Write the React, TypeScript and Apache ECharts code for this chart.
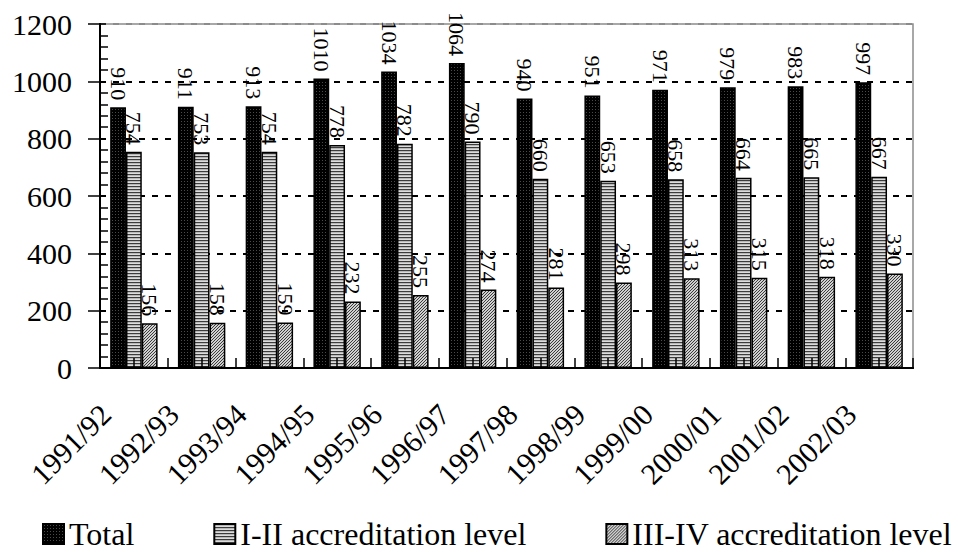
import React, { useEffect, useRef } from "react";
import * as echarts from "echarts";

const categories = [
  "1991/92", "1992/93", "1993/94", "1994/95", "1995/96", "1996/97",
  "1997/98", "1998/99", "1999/00", "2000/01", "2001/02", "2002/03",
];
const totalValues = [910, 911, 913, 1010, 1034, 1064, 940, 951, 971, 979, 983, 997];
const level12Values = [754, 753, 754, 778, 782, 790, 660, 653, 658, 664, 665, 667];
const level34Values = [156, 158, 159, 232, 255, 274, 281, 298, 313, 315, 318, 330];
const seriesNames = ["Total", "I-II accreditation level", "III-IV accreditation level"];

const FONT = "'Liberation Serif', 'Times New Roman', serif";

// Small tiled canvases used as bar fill patterns.
function makeTile(w: number, h: number, paint: (x: number, y: number) => string) {
  const c = document.createElement("canvas");
  c.width = w;
  c.height = h;
  const ctx = c.getContext("2d")!;
  for (let y = 0; y < h; y++) {
    for (let x = 0; x < w; x++) {
      ctx.fillStyle = paint(x, y);
      ctx.fillRect(x, y, 1, 1);
    }
  }
  return c;
}

export default function App() {
  const ref = useRef<HTMLDivElement>(null);

  useEffect(() => {
    if (!ref.current) return;
    const chart = echarts.init(ref.current, null, { renderer: "svg" });

    const dotted = makeTile(3, 3, (x, y) => (x === 1 && y === 1 ? "#4a4a4a" : "#000000"));
    const striped = makeTile(1, 3, (_x, y) => (y === 0 ? "#3c3c3c" : y === 1 ? "#b8b8b8" : "#dcdcdc"));
    const hatched = makeTile(3, 3, (x, y) => ((x + y) % 3 === 2 ? "#3c3c3c" : "#d0d0d0"));

    const fills = [dotted, striped, hatched];
    const values = [totalValues, level12Values, level34Values];

    const series: any[] = seriesNames.map((name, i) => ({
      name,
      type: "bar",
      xAxisIndex: 0,
      yAxisIndex: 0,
      data: values[i],
      barGap: "0%",
      barCategoryGap: "30%",
      itemStyle: {
        color: { image: fills[i], repeat: "repeat" },
        borderColor: "#000",
        borderWidth: 1.5,
      },
      label: {
        show: true,
        position: "top",
        rotate: -90,
        align: "right",
        verticalAlign: "middle",
        distance: 7,
        fontSize: 22,
        fontFamily: FONT,
        color: "#000",
      },
    }));

    // empty helper series that ties the secondary tick axes to the grid
    series.push({
      name: "ticks",
      type: "line",
      xAxisIndex: 1,
      yAxisIndex: 1,
      data: [],
      silent: true,
    });

    chart.setOption({
      animation: false,
      backgroundColor: "#fff",
      textStyle: { fontFamily: FONT, color: "#000" },
      grid: {
        left: 100,
        right: 45,
        top: 24,
        bottom: 184,
        show: true,
        borderColor: "#8c8c8c",
        borderWidth: 1.5,
        backgroundColor: "transparent",
      },
      legend: {
        data: seriesNames,
        left: 37,
        top: 513,
        itemGap: 79,
        itemWidth: 21,
        itemHeight: 20,
        icon: "rect",
        textStyle: { fontSize: 32, fontFamily: FONT, color: "#000" },
      },
      xAxis: [
        {
          type: "category",
          data: categories,
          position: "bottom",
          axisLine: { show: true, lineStyle: { color: "#000", width: 2 } },
          axisTick: { show: false },
          axisLabel: {
            interval: 0,
            rotate: 45,
            margin: 13,
            padding: [0, 40, 0, 0],
            fontSize: 30,
            fontFamily: FONT,
            color: "#000",
          },
          splitLine: { show: false },
        },
        {
          // tick marks at every category centre and boundary
          type: "value",
          show: true,
          min: 0,
          max: 24,
          interval: 1,
          position: "bottom",
          offset: 0,
          z: 5,
          axisLine: { show: true, onZero: false, lineStyle: { color: "#000", width: 2 } },
          axisTick: { show: true, inside: true, length: 10, lineStyle: { color: "#000", width: 1.5 } },
          axisLabel: { show: false },
          splitLine: { show: false },
        },
      ],
      yAxis: [
        {
          type: "value",
          min: 0,
          max: 1200,
          interval: 200,
          axisLine: { show: true, lineStyle: { color: "#000", width: 2 } },
          axisTick: { show: true, length: 12, lineStyle: { color: "#000", width: 1.5 } },
          axisLabel: {
            margin: 28,
            fontSize: 30,
            fontFamily: FONT,
            color: "#000",
            formatter: (v: number) => String(v),
          },
          splitLine: {
            show: true,
            lineStyle: {
              color: ["#000", "#000", "#000", "#000", "#000", "#000", "#8c8c8c"],
              width: 2,
              type: [6, 7],
            },
          },
        },
        {
          // inner major and minor ticks along the value axis
          type: "value",
          show: true,
          min: 0,
          max: 1200,
          interval: 200,
          position: "left",
          offset: 0,
          z: 5,
          axisLine: { show: true, onZero: false, lineStyle: { color: "#000", width: 2 } },
          axisTick: { show: true, inside: true, length: 6, lineStyle: { color: "#000", width: 1.5 } },
          minorTick: { show: true, splitNumber: 5, length: 8, lineStyle: { color: "#000", width: 1.5 } },
          axisLabel: { show: false },
          splitLine: { show: false },
        },
      ],
      series,
    });

    return () => chart.dispose();
  }, []);

  return (
    <div
      ref={ref}
      style={{ position: "fixed", left: 0, top: 0, width: 958, height: 552, background: "#fff" }}
    />
  );
}
